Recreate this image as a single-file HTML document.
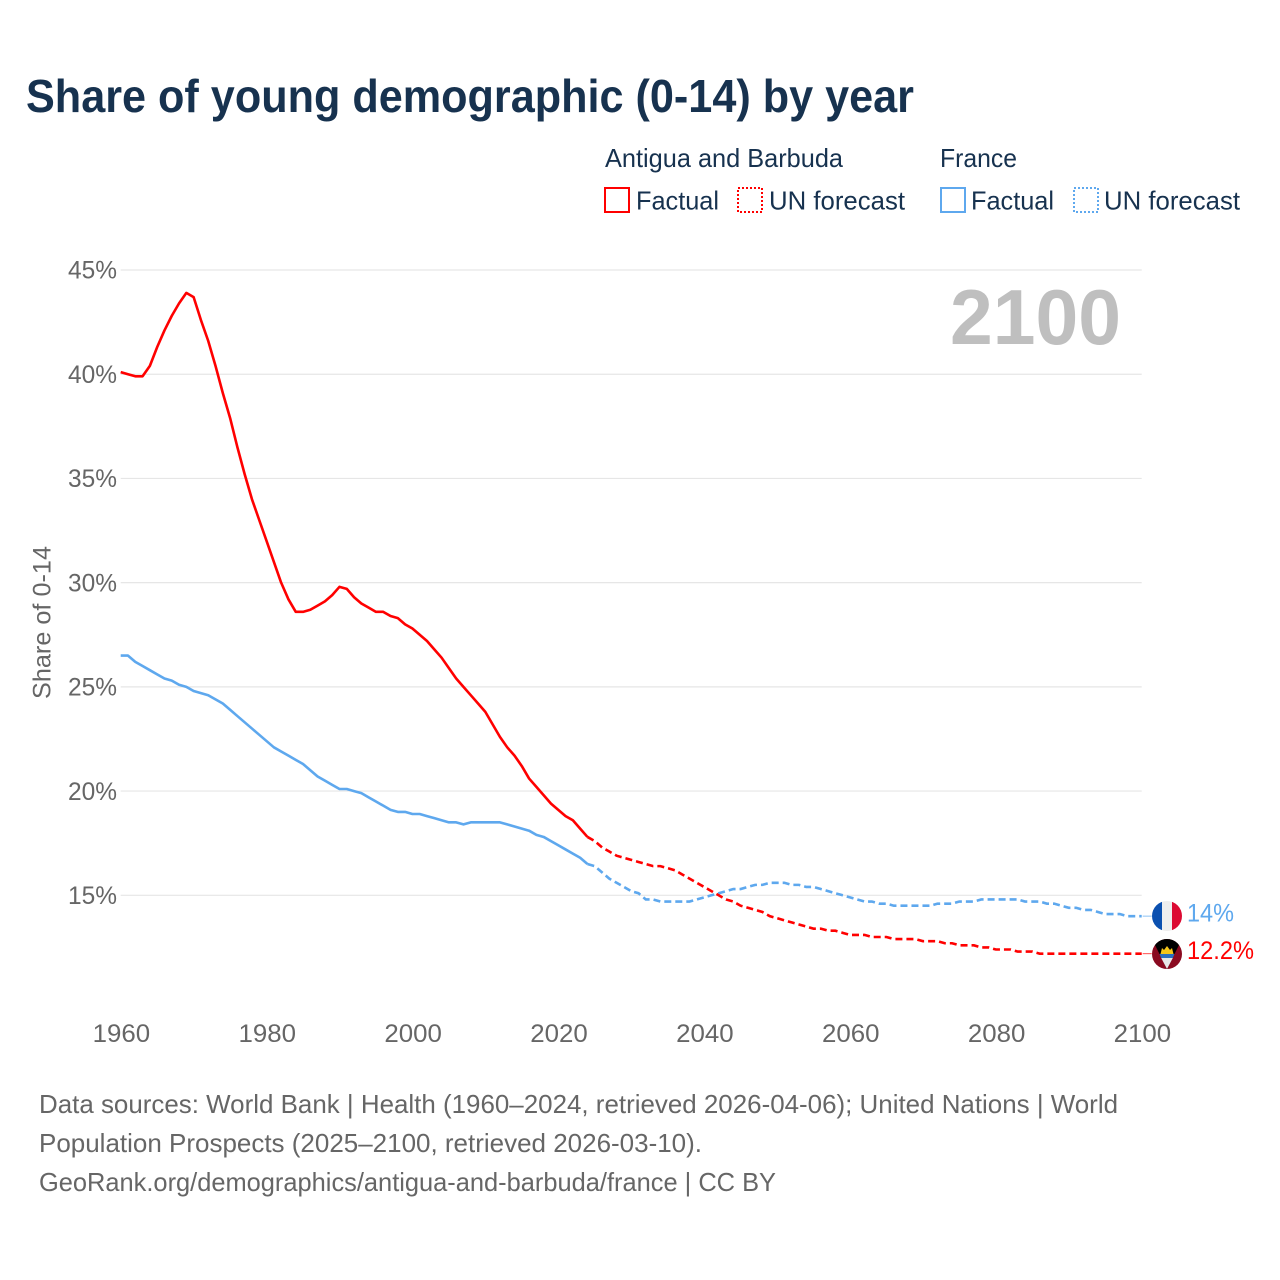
<!DOCTYPE html>
<html lang="en">
<head>
<meta charset="utf-8">
<title>Share of young demographic (0-14) by year</title>
<style>
html,body{margin:0;padding:0;background:#fff;width:1280px;height:1280px;overflow:hidden}
svg{display:block}
text{font-family:"Liberation Sans",Arial,sans-serif}
</style>
</head>
<body>
<svg id="chart" xmlns="http://www.w3.org/2000/svg" width="1280" height="1280" viewBox="0 0 1280 1280">
  <defs>
    <clipPath id="clip-fr"><circle cx="1167" cy="916" r="15"/></clipPath>
    <clipPath id="clip-ag"><circle cx="1167" cy="954" r="15"/></clipPath>
  </defs>
  <rect width="1280" height="1280" fill="#fff"/>
  <text x="26" y="112" font-size="46" font-weight="700" fill="#17324f" textLength="888" lengthAdjust="spacingAndGlyphs">Share of young demographic (0-14) by year</text>

  <g>
    <text x="605" y="167" font-size="26" fill="#17324f" textLength="238" lengthAdjust="spacingAndGlyphs">Antigua and Barbuda</text>
    <text x="940" y="167" font-size="26" fill="#17324f" textLength="77" lengthAdjust="spacingAndGlyphs">France</text>
    <rect x="605" y="188" width="24" height="24" fill="none" stroke="#ff0000" stroke-width="2"/>
    <text x="636" y="209.5" font-size="26" fill="#17324f" textLength="83" lengthAdjust="spacingAndGlyphs">Factual</text>
    <rect x="738" y="188" width="24" height="24" fill="none" stroke="#ff0000" stroke-width="2" stroke-dasharray="2 2"/>
    <text x="769" y="209.5" font-size="26" fill="#17324f" textLength="136" lengthAdjust="spacingAndGlyphs">UN forecast</text>
    <rect x="941" y="188" width="24" height="24" fill="none" stroke="#5ea8ee" stroke-width="2"/>
    <text x="971" y="209.5" font-size="26" fill="#17324f" textLength="83" lengthAdjust="spacingAndGlyphs">Factual</text>
    <rect x="1074" y="188" width="24" height="24" fill="none" stroke="#5ea8ee" stroke-width="2" stroke-dasharray="2 2"/>
    <text x="1104" y="209.5" font-size="26" fill="#17324f" textLength="136" lengthAdjust="spacingAndGlyphs">UN forecast</text>
  </g>

  <g id="grid"></g>
  <g id="yticks"></g>
  <g id="xticks"></g>
  <text transform="translate(50.5,699) rotate(-90)" font-size="25" fill="#666" textLength="153" lengthAdjust="spacingAndGlyphs">Share of 0-14</text>
  <text x="950" y="344" font-size="78" font-weight="700" fill="#bfbfbf" textLength="171" lengthAdjust="spacingAndGlyphs">2100</text>

  <g id="series"></g>

  <g clip-path="url(#clip-fr)">
    <rect x="1152" y="901" width="10" height="30" fill="#0b50b0"/>
    <rect x="1162" y="901" width="10" height="30" fill="#eeeeee"/>
    <rect x="1172" y="901" width="10" height="30" fill="#dc0a32"/>
  </g>
  <g clip-path="url(#clip-ag)">
    <rect x="1152" y="939" width="30" height="30" fill="#8a0a20"/>
    <polygon points="1152,939 1182,939 1167,969" fill="#000"/>
    <polygon points="1159.5,954 1174.5,954 1172.8,958 1161.2,958" fill="#2a6fc0"/>
    <polygon points="1161.2,958 1172.8,958 1167,969" fill="#e8e8e8"/>
    <polygon points="1160.5,954 1162,948 1164,950 1167,946 1170,950 1172,948 1173.5,954" fill="#f5c518"/>
  </g>
  <text id="label-fr" x="1187" y="921.5" font-size="25" fill="#5ea8ee" textLength="47" lengthAdjust="spacingAndGlyphs"></text>
  <text id="label-ag" x="1187" y="959" font-size="25" fill="#ff0000" textLength="67" lengthAdjust="spacingAndGlyphs"></text>

  <g>
    <text x="39" y="1113" font-size="26" fill="#666" textLength="1079" lengthAdjust="spacingAndGlyphs">Data sources: World Bank | Health (1960–2024, retrieved 2026-04-06); United Nations | World</text>
    <text x="39" y="1152" font-size="26" fill="#666" textLength="663" lengthAdjust="spacingAndGlyphs">Population Prospects (2025–2100, retrieved 2026-03-10).</text>
    <text x="39" y="1191" font-size="26" fill="#666" textLength="737" lengthAdjust="spacingAndGlyphs">GeoRank.org/demographics/antigua-and-barbuda/france | CC BY</text>
  </g>
</svg>
<script>
const startYear = 1960;
const lastFactualYear = 2025;
const yTickValues = [15, 20, 25, 30, 35, 40, 45];
const xTickYears = [1960, 1980, 2000, 2020, 2040, 2060, 2080, 2100];
const antiguaValues = [
  40.1,40.0,39.9,39.9,40.4,41.3,42.1,42.8,43.4,43.9,
  43.7,42.6,41.6,40.4,39.1,37.9,36.5,35.2,34.0,33.0,
  32.0,31.0,30.0,29.2,28.6,28.6,28.7,28.9,29.1,29.4,
  29.8,29.7,29.3,29.0,28.8,28.6,28.6,28.4,28.3,28.0,
  27.8,27.5,27.2,26.8,26.4,25.9,25.4,25.0,24.6,24.2,
  23.8,23.2,22.6,22.1,21.7,21.2,20.6,20.2,19.8,19.4,
  19.1,18.8,18.6,18.2,17.8,17.6,17.3,17.1,16.9,16.8,
  16.7,16.6,16.5,16.4,16.4,16.3,16.2,16.0,15.8,15.6,
  15.4,15.2,15.0,14.8,14.7,14.5,14.4,14.3,14.2,14.0,
  13.9,13.8,13.7,13.6,13.5,13.4,13.4,13.3,13.3,13.2,
  13.1,13.1,13.1,13.0,13.0,13.0,12.9,12.9,12.9,12.9,
  12.8,12.8,12.8,12.7,12.7,12.6,12.6,12.6,12.5,12.5,
  12.4,12.4,12.4,12.3,12.3,12.3,12.2,12.2,12.2,12.2,
  12.2,12.2,12.2,12.2,12.2,12.2,12.2,12.2,12.2,12.2,12.2
];
const franceValues = [
  26.5,26.5,26.2,26.0,25.8,25.6,25.4,25.3,25.1,25.0,
  24.8,24.7,24.6,24.4,24.2,23.9,23.6,23.3,23.0,22.7,
  22.4,22.1,21.9,21.7,21.5,21.3,21.0,20.7,20.5,20.3,
  20.1,20.1,20.0,19.9,19.7,19.5,19.3,19.1,19.0,19.0,
  18.9,18.9,18.8,18.7,18.6,18.5,18.5,18.4,18.5,18.5,
  18.5,18.5,18.5,18.4,18.3,18.2,18.1,17.9,17.8,17.6,
  17.4,17.2,17.0,16.8,16.5,16.4,16.1,15.8,15.6,15.4,
  15.2,15.1,14.8,14.8,14.7,14.7,14.7,14.7,14.7,14.8,
  14.9,15.0,15.1,15.2,15.3,15.3,15.4,15.5,15.5,15.6,
  15.6,15.6,15.5,15.5,15.4,15.4,15.3,15.2,15.1,15.0,
  14.9,14.8,14.7,14.7,14.6,14.6,14.5,14.5,14.5,14.5,
  14.5,14.5,14.6,14.6,14.6,14.7,14.7,14.7,14.8,14.8,
  14.8,14.8,14.8,14.8,14.7,14.7,14.7,14.6,14.6,14.5,
  14.4,14.4,14.3,14.3,14.2,14.1,14.1,14.1,14.0,14.0,14.0
];
const antiguaEndLabel = "12.2%";
const franceEndLabel = "14%";

const NS = "http://www.w3.org/2000/svg";
const xScale = year => 120.7 + (year - 1960) * (1141.7 - 120.7) / 140;
const yScale = value => 895.3 - (value - 15) * (895.3 - 270) / 30;

const gridGroup = document.getElementById("grid");
const yTickGroup = document.getElementById("yticks");
const xTickGroup = document.getElementById("xticks");
const seriesGroup = document.getElementById("series");

yTickValues.forEach(v => {
  const line = document.createElementNS(NS, "line");
  
  
  line.setAttribute("x1", xScale(1960));
  line.setAttribute("x2", xScale(2100));
  line.setAttribute("y1", yScale(v));
  line.setAttribute("y2", yScale(v));
  line.setAttribute("stroke", "#e6e6e6");
  line.setAttribute("stroke-width", "1.2");
  gridGroup.appendChild(line);

  const label = document.createElementNS(NS, "text");
  
  
  label.setAttribute("x", 68);
  label.setAttribute("y", yScale(v) + 8.7);
  label.setAttribute("font-size", "25");
  label.setAttribute("fill", "#666");
  label.setAttribute("textLength", "49");
  label.setAttribute("lengthAdjust", "spacingAndGlyphs");
  label.textContent = v + "%";
  yTickGroup.appendChild(label);
});

xTickYears.forEach(y => {
  const label = document.createElementNS(NS, "text");
  
  
  label.setAttribute("x", xScale(y) - 28);
  label.setAttribute("y", 1042);
  label.setAttribute("font-size", "25");
  label.setAttribute("fill", "#666");
  label.setAttribute("textLength", "57.5");
  label.setAttribute("lengthAdjust", "spacingAndGlyphs");
  label.textContent = y;
  xTickGroup.appendChild(label);
});

function pathFor(values, fromYear, toYear) {
  let d = "";
  for (let y = fromYear; y <= toYear; y++) {
    const v = values[y - startYear];
    d += (d ? "L" : "M") + xScale(y).toFixed(2) + " " + yScale(v).toFixed(2);
  }
  return d;
}

function drawSeries(name, values, color) {
  const lastYear = startYear + values.length - 1;

  const factual = document.createElementNS(NS, "path");
  
  
  factual.setAttribute("d", pathFor(values, startYear, lastFactualYear - 1));
  factual.setAttribute("fill", "none");
  factual.setAttribute("stroke", color);
  factual.setAttribute("stroke-width", "2.6");
  factual.setAttribute("stroke-linejoin", "round");
  seriesGroup.appendChild(factual);

  const forecast = document.createElementNS(NS, "path");
  
  
  forecast.setAttribute("d", pathFor(values, lastFactualYear - 1, lastYear));
  forecast.setAttribute("fill", "none");
  forecast.setAttribute("stroke", color);
  forecast.setAttribute("stroke-width", "2.6");
  forecast.setAttribute("stroke-dasharray", "7 4");
  seriesGroup.appendChild(forecast);

  const leader = document.createElementNS(NS, "line");
  
  
  leader.setAttribute("x1", xScale(lastYear) + 1);
  leader.setAttribute("x2", xScale(lastYear) + 10);
  leader.setAttribute("y1", yScale(values[values.length - 1]));
  leader.setAttribute("y2", yScale(values[values.length - 1]));
  leader.setAttribute("stroke", color);
  leader.setAttribute("stroke-width", "1");
  leader.setAttribute("stroke-opacity", "0.7");
  seriesGroup.appendChild(leader);
}

drawSeries("france", franceValues, "#5ea8ee");
drawSeries("antigua", antiguaValues, "#ff0000");
document.getElementById("label-fr").textContent = franceEndLabel;
document.getElementById("label-ag").textContent = antiguaEndLabel;
</script>
</body>
</html>
